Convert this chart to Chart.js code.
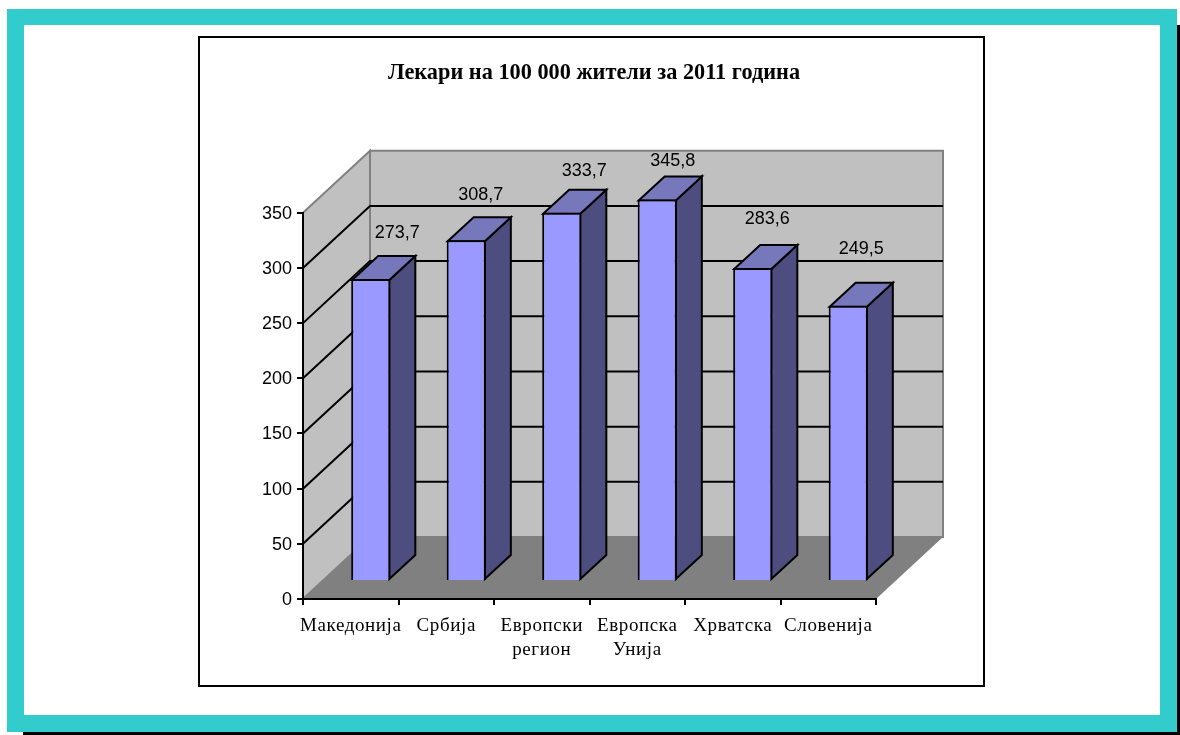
<!DOCTYPE html>
<html>
<head>
<meta charset="utf-8">
<script src="https://cdn.jsdelivr.net/npm/chart.js@4"></script>
<style>
html,body{margin:0;padding:0;background:#fff;overflow:hidden}
#shadow{position:absolute;left:23px;top:25px;width:1157px;height:710px;background:#000}
#outer{position:absolute;left:7px;top:9px;width:1170px;height:723px;background:#33CCCC}
#inner{position:absolute;left:24px;top:25px;width:1136px;height:690px;background:#fff}
#frame{position:absolute;left:198px;top:36px;width:783px;height:647px;border:2px solid #000;background:#fff}
#wrap{position:absolute;left:210px;top:39px;width:768px;height:645px}
</style>
</head>
<body>
<div id="shadow"></div><div id="outer"></div><div id="inner"></div><div id="frame"></div>
<div id="wrap"><canvas id="c" width="768" height="645"></canvas></div>
<script>
const categories = ['Македонија','Србија',['Европски','регион'],['Европска','Унија'],'Хрватска','Словенија'];
const doctors = [273.7,308.7,333.7,345.8,283.6,249.5];
const yTicks = [0,50,100,150,200,250,300,350];
const chartTitle = 'Лекари на 100 000 жители за 2011 година';
const labelOffsets = [[27,-46],[15,-45],[23,-42],[16,-38],[15,-49],[13.5,-57]];

const WALL = {dx:67, dy:62};
const BAR_FRONT = {dx:20, dy:18};
const BAR_DEPTH = {dx:26, dy:24};

function poly(ctx, pts, fill, stroke, lw){
  ctx.beginPath();
  pts.forEach((p,i)=> i ? ctx.lineTo(p[0],p[1]) : ctx.moveTo(p[0],p[1]));
  ctx.closePath();
  ctx.fillStyle = fill; ctx.fill();
  if(stroke){ ctx.strokeStyle = stroke; ctx.lineWidth = lw; ctx.lineJoin='miter'; ctx.stroke(); }
}

const chart3d = {
  id:'chart3d',
  afterLayout(chart){
    const ctx=chart.ctx, sx=chart.scales.x, sy=chart.scales.y;
    if(sx._wrapped) return;
    sx._wrapped=true;
    const origX=sx.drawLabels, origY=sy.drawLabels;
    sx.drawLabels=function(a){ ctx.save(); ctx.letterSpacing='0.6px'; origX.call(this,a); ctx.restore(); };
    sy.drawLabels=function(a){ ctx.save(); ctx.translate(0,1); origY.call(this,a); ctx.restore(); };
  },
  beforeDraw(chart){
    const {ctx, chartArea:a, scales:{y}} = chart;
    const L=a.left,R=a.right,T=a.top,B=a.bottom,dx=WALL.dx,dy=WALL.dy;
    ctx.save();
    poly(ctx,[[L,T],[L+dx,T-dy],[L+dx,B-dy],[L,B]],'#C0C0C0','#808080',2);
    poly(ctx,[[L+dx,T-dy],[R+dx,T-dy],[R+dx,B-dy],[L+dx,B-dy]],'#C0C0C0','#808080',2);
    poly(ctx,[[L,B],[L+dx,B-dy],[R+dx,B-dy],[R,B]],'#808080');
    ctx.strokeStyle='#000'; ctx.lineWidth=2;
    yTicks.forEach(v=>{
      if(v===0||v===yTicks[yTicks.length-1]) return;
      const p=y.getPixelForValue(v);
      ctx.beginPath();
      ctx.moveTo(L,p); ctx.lineTo(L+dx,p-dy); ctx.lineTo(R+dx,p-dy);
      ctx.stroke();
    });
    ctx.restore();
  },
  beforeDatasetsDraw(chart){
    const {ctx} = chart;
    ctx.save();
    chart.getDatasetMeta(0).data.forEach(el=>{
      const hw=el.width/2, x0=el.x-hw+BAR_FRONT.dx, x1=el.x+hw+BAR_FRONT.dx;
      const t=el.y-BAR_FRONT.dy, b=el.base-BAR_FRONT.dy, ox=BAR_DEPTH.dx, oy=BAR_DEPTH.dy;
      poly(ctx,[[x1-1,t+1],[x1-1+ox,t+1-oy],[x1-1+ox,b-1-oy],[x1-1,b-1]],'#4D4D80','#000',2);
      poly(ctx,[[x0+1,t+1],[x0+1+ox,t+1-oy],[x1-1+ox,t+1-oy],[x1-1,t+1]],'#7777BB','#000',2);
    });
    ctx.restore();
    ctx.save();
    ctx.translate(BAR_FRONT.dx,-BAR_FRONT.dy);
  },
  afterDatasetsDraw(chart){
    const {ctx} = chart;
    ctx.restore();
    ctx.save();
    ctx.font='18px "Liberation Sans"';
    ctx.fillStyle='#000'; ctx.textAlign='center'; ctx.textBaseline='middle';
    chart.getDatasetMeta(0).data.forEach((el,i)=>{
      const o=labelOffsets[i];
      ctx.fillText(String(doctors[i]).replace('.',','), el.x+19.5+o[0], el.y-BAR_FRONT.dy+o[1]);
    });
    ctx.restore();
  }
};

new Chart(document.getElementById('c'),{
  type:'bar',
  data:{labels:categories,datasets:[{
    data:doctors,
    backgroundColor:'#9999FF',
    borderColor:'#000',
    borderWidth:2,
    barPercentage:0.41,
    categoryPercentage:1,
    clip:false
  }]},
  plugins:[chart3d],
  options:{
    responsive:false,
    animation:false,
    devicePixelRatio:1,
    layout:{padding:{left:10,right:10,top:21,bottom:5}},
    plugins:{
      legend:{display:false},
      tooltip:{enabled:false},
      title:{display:true,text:chartTitle,color:'#000',
        font:{family:'"Liberation Serif"',size:22.3,weight:'bold',lineHeight:1.2},
        padding:{top:0,bottom:126}}
    },
    scales:{
      x:{
        afterFit(s){s.height=80;},
        border:{display:true,color:'#000',width:2},
        grid:{display:true,offset:true,drawOnChartArea:false,drawTicks:true,tickLength:6,color:'#000',lineWidth:2},
        ticks:{color:'#000',autoSkip:false,maxRotation:0,minRotation:0,padding:9,
          font:{family:'"Liberation Serif"',size:19,lineHeight:1.26}}
      },
      y:{
        min:0,max:350,
        afterFit(s){s.width=83;},
        border:{display:true,color:'#000',width:2},
        grid:{display:true,drawOnChartArea:false,drawTicks:true,tickLength:6,color:'#000',lineWidth:2},
        ticks:{color:'#000',stepSize:50,padding:5,font:{family:'"Liberation Sans"',size:18}}
      },
      spacer:{
        position:'right',
        afterFit(s){s.width=92;},
        border:{display:false},
        grid:{display:false},
        ticks:{display:false}
      }
    }
  }
});
</script>
</body>
</html>
